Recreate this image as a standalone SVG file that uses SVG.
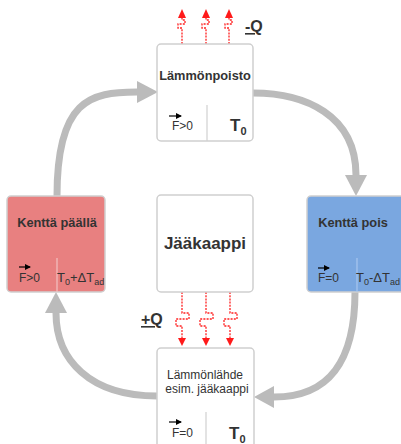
<svg xmlns="http://www.w3.org/2000/svg" width="401" height="444" viewBox="0 0 401 444">
<defs>
<style>
.box{stroke:#cfcfcf;stroke-width:1.5}
.t{font-family:"Liberation Sans",Arial,sans-serif;fill:#333}
.lbl{font-size:12.8px;font-weight:bold;text-anchor:middle}
.f{font-size:12px}
.big{font-size:17px;font-weight:bold}
.bigsub{font-size:11px;font-weight:bold}
.mid{font-size:13px}
.sub{font-size:9px}
.q{font-size:16px;font-weight:bold;text-decoration:underline}
.div{stroke:#d0d0d0;stroke-width:1.2}
.cyc{fill:none;stroke:#bbbbbb;stroke-width:7}
.head{fill:#bbbbbb}
.heat{fill:none;stroke:#ff2020;stroke-width:1.3;stroke-dasharray:2 1.2}
.rh{fill:#ff1a1a}
.va{stroke:#000;stroke-width:1.2}
</style>
<marker id="vm" markerWidth="6" markerHeight="6" refX="5" refY="3" orient="auto" markerUnits="userSpaceOnUse">
<path d="M0,0 L6,3 L0,6 z" fill="#000"/>
</marker>
</defs>
<rect width="401" height="444" fill="#ffffff"/>

<g id="connectors">
<path class="cyc" d="M57,196 C57,100 90,92 137,92"/>
<path class="head" d="M158,92 L137,81 L137,103 z"/>
<path class="cyc" d="M253,93 C305,93 356,115 356,175"/>
<path class="head" d="M356,196 L345,175 L367,175 z"/>
<path class="cyc" d="M355,292 C355,360 330,397 274,397"/>
<path class="head" d="M254,397 L274,386 L274,408 z"/>
<path class="cyc" d="M157,396 C90,396 56,360 56,313"/>
<path class="head" d="M56,292 L45,313 L67,313 z"/>

<path class="heat" d="M182,44 V28 h-4 v-4 h7 v-4 h-3 V18"/>
<path class="heat" d="M206,44 V28 h-4 v-4 h7 v-4 h-3 V18"/>
<path class="heat" d="M229,44 V28 h-4 v-4 h7 v-4 h-3 V18"/>
<path class="rh" d="M182,9 L186,18 L178,18 z"/>
<path class="rh" d="M206,9 L210,18 L202,18 z"/>
<path class="rh" d="M229,9 L233,18 L225,18 z"/>

<path class="heat" d="M182,292 V313 h7 v6 h-13 v7 h6 V338"/>
<path class="heat" d="M206,292 V313 h7 v6 h-13 v7 h6 V338"/>
<path class="heat" d="M230,292 V313 h7 v6 h-13 v7 h6 V338"/>
<path class="rh" d="M182,346 L178,338 L186,338 z"/>
<path class="rh" d="M206,346 L202,338 L210,338 z"/>
<path class="rh" d="M230,346 L226,338 L234,338 z"/>
</g>

<g id="q-labels">
<text class="t q" x="245" y="32">-Q</text>
<text class="t q" x="141" y="325">+Q</text>
</g>

<g id="node-top">
<rect class="box" x="157" y="44" width="96" height="97" rx="4" fill="#ffffff"/>
<line class="div" x1="207" y1="105" x2="207" y2="141"/>
<text class="t lbl" x="205" y="80">Lämmönpoisto</text>
<line class="va" x1="169" y1="116" x2="181" y2="116" marker-end="url(#vm)"/>
<text class="t f" x="172" y="130">F&gt;0</text>
<text class="t big" x="230" y="131">T<tspan class="bigsub" dy="4">0</tspan></text>
</g>

<g id="node-left">
<rect class="box" x="7" y="196" width="98" height="96" rx="4" fill="#e88080" stroke="#d9b0b0"/>
<line x1="57" y1="258" x2="57" y2="292" stroke="#f2c2c2" stroke-width="1.2"/>
<text class="t lbl" x="57" y="227">Kenttä päällä</text>
<line class="va" x1="19" y1="267" x2="30" y2="267" marker-end="url(#vm)"/>
<text class="t f" x="19" y="282">F&gt;0</text>
<text class="t mid" x="57" y="282">T<tspan class="sub" dy="3">0</tspan><tspan dy="-3">+ΔT</tspan><tspan class="sub" dy="3">ad</tspan></text>
</g>

<g id="node-right">
<rect class="box" x="307" y="196" width="98" height="96" rx="4" fill="#7aa7e0" stroke="#b0c8e8"/>
<line x1="357" y1="258" x2="357" y2="292" stroke="#a8c6ee" stroke-width="1.2"/>
<text class="t lbl" x="353" y="227">Kenttä pois</text>
<line class="va" x1="318" y1="268" x2="329" y2="268" marker-end="url(#vm)"/>
<text class="t f" x="318" y="282">F=0</text>
<text class="t mid" x="356" y="282">T<tspan class="sub" dy="3">0</tspan><tspan dy="-3">-ΔT</tspan><tspan class="sub" dy="3">ad</tspan></text>
</g>

<g id="node-center">
<rect class="box" x="157" y="195" width="96" height="97" rx="4" fill="#ffffff"/>
<text class="t" x="205" y="249" font-size="17" font-weight="bold" text-anchor="middle">Jääkaappi</text>
</g>

<g id="node-bottom">
<rect class="box" x="157" y="348" width="97" height="100" rx="4" fill="#ffffff"/>
<line class="div" x1="206" y1="412" x2="206" y2="444"/>
<text class="t" x="205" y="379" font-size="12" text-anchor="middle">Lämmönlähde</text>
<text class="t" x="207" y="393" font-size="12" text-anchor="middle">esim. jääkaappi</text>
<line class="va" x1="169" y1="422" x2="181" y2="422" marker-end="url(#vm)"/>
<text class="t f" x="172" y="437">F=0</text>
<text class="t big" x="229" y="439">T<tspan class="bigsub" dy="4">0</tspan></text>
</g>
</svg>
